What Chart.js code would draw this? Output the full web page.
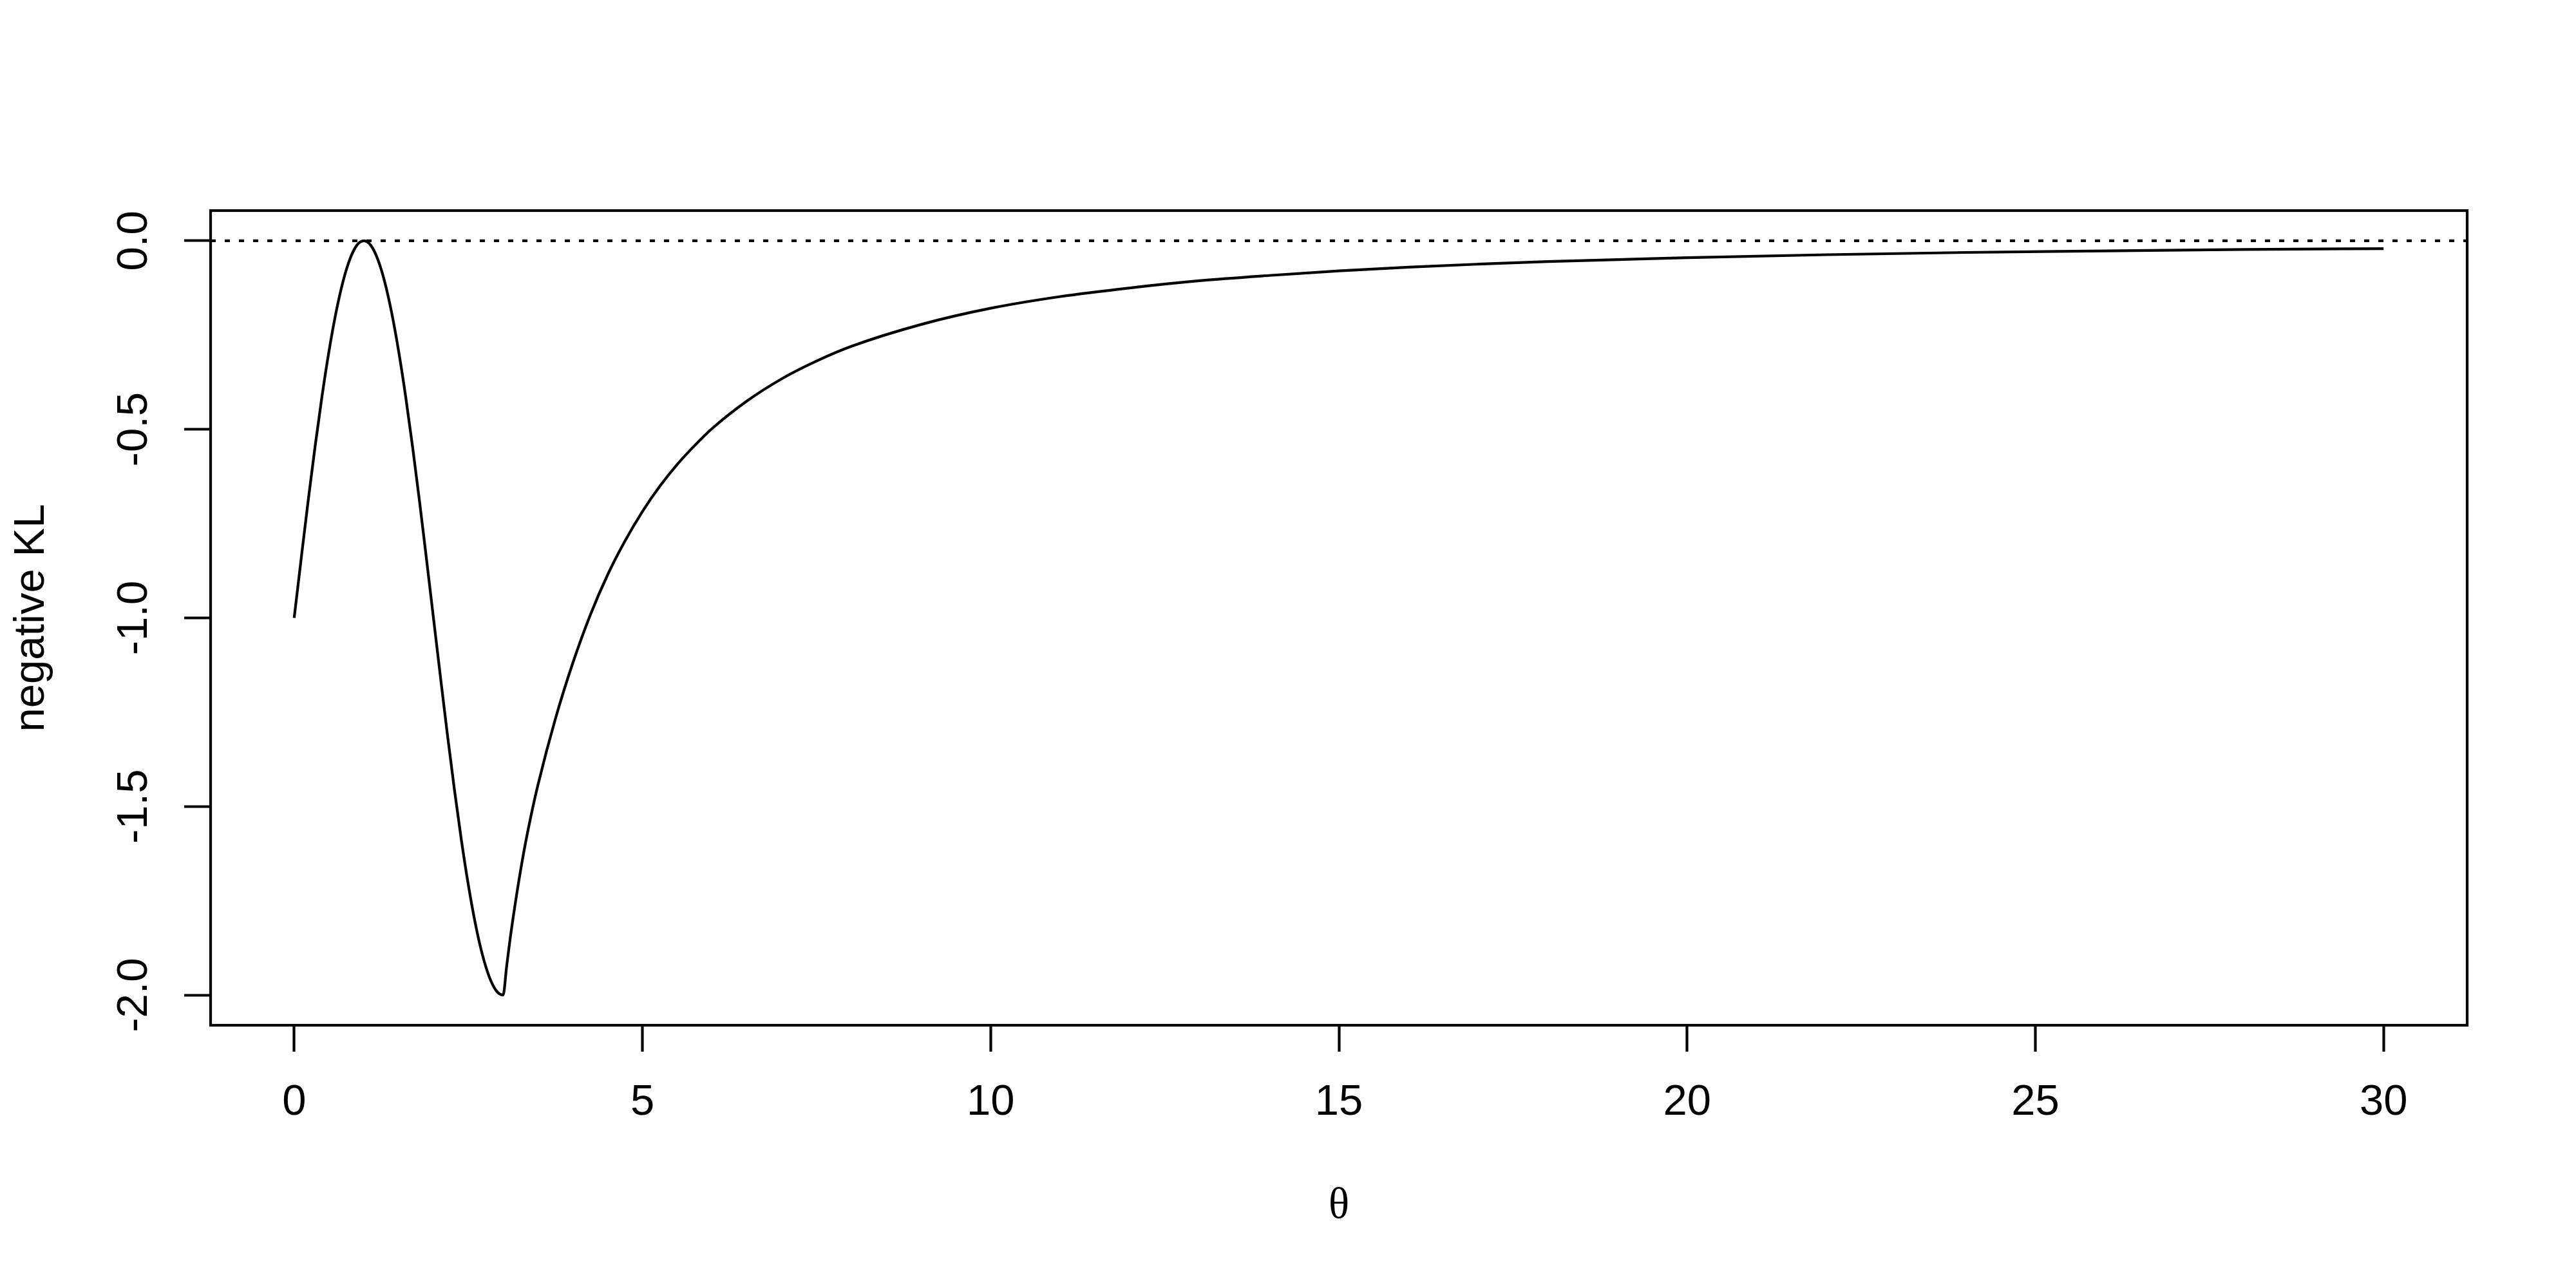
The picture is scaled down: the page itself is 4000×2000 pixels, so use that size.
<!DOCTYPE html>
<html>
<head>
<meta charset="utf-8">
<script src="https://cdn.jsdelivr.net/npm/chart.js@4.4.1/dist/chart.umd.min.js"></script>
<style>
  html, body { margin: 0; padding: 0; background: #fff; }
  #chart { display: block; }
</style>
</head>
<body>
<canvas id="chart" width="4000" height="2000" style="width:4000px;height:2000px"></canvas>
<script>
// curve values
const theta = [
  0, 0.1, 0.2, 0.3, 0.4, 0.5, 0.6, 0.7, 0.8, 0.9, 1.0,
  1.1, 1.2, 1.3, 1.4, 1.5, 1.6, 1.7, 1.8, 1.9, 2.0,
  2.1, 2.2, 2.3, 2.4, 2.5, 2.6, 2.7, 2.8, 2.9, 3.0,
  3.05, 3.1, 3.2, 3.3, 3.4, 3.5, 3.75, 4.0, 4.25, 4.5, 4.75,
  5.0, 5.25, 5.5, 5.75, 6.0, 6.5, 7.0, 7.5, 8, 9, 10, 11, 12, 13, 14,
  15, 16, 17, 18, 19, 20, 22, 24, 26, 28, 30
];
const negKL = [
  -1.000, -0.844, -0.691, -0.546, -0.412, -0.293, -0.191, -0.109, -0.049, -0.012, 0.000,
  -0.012, -0.049, -0.109, -0.191, -0.293, -0.412, -0.546, -0.691, -0.844, -1.000,
  -1.156, -1.309, -1.454, -1.588, -1.707, -1.809, -1.891, -1.951, -1.988, -2.000,
  -1.925, -1.852, -1.727, -1.618, -1.525, -1.443, -1.268, -1.120, -0.993, -0.886, -0.796,
  -0.718, -0.651, -0.593, -0.543, -0.498, -0.425, -0.366, -0.319, -0.280, -0.222, -0.179, -0.148, -0.125, -0.106, -0.092,
  -0.080, -0.070, -0.062, -0.055, -0.050, -0.045, -0.037, -0.031, -0.027, -0.023, -0.021
];

const xTickValues = [0, 5, 10, 15, 20, 25, 30];
const xTickLabels = ['0', '5', '10', '15', '20', '25', '30'];
const yTickValues = [-2, -1.5, -1, -0.5, 0];
const yTickLabels = ['-2.0', '-1.5', '-1.0', '-0.5', '0.0'];
const xRange = [-1.2, 31.2];
const yRange = [-2.08, 0.08];
const refLevel = 0;

const LW = 4.2;
const sans = "'Liberation Sans', Arial, Helvetica, sans-serif";
const serif = "'Liberation Serif', 'Times New Roman', serif";

const curve = theta.map((t, i) => ({ x: t, y: negKL[i] }));
const refLine = xRange.map(x => ({ x: x, y: refLevel }));

// box around the plot region
const frame = {
  id: 'frame',
  afterDatasetsDraw(chart) {
    const { ctx, chartArea: a } = chart;
    ctx.save();
    ctx.strokeStyle = '#000';
    ctx.lineWidth = LW;
    ctx.strokeRect(a.left, a.top, a.right - a.left, a.bottom - a.top);
    ctx.restore();
  }
};

new Chart(document.getElementById('chart'), {
  type: 'scatter',
  data: {
    datasets: [
      {
        data: refLine,
        showLine: true,
        borderColor: '#000',
        borderWidth: LW,
        borderDash: [8, 14],
        borderCapStyle: 'butt',
        pointRadius: 0
      },
      {
        data: curve,
        showLine: true,
        borderColor: '#000',
        borderWidth: LW,
        cubicInterpolationMode: 'monotone',
        pointRadius: 0
      }
    ]
  },
  options: {
    responsive: false,
    animation: false,
    devicePixelRatio: 1,
    layout: { padding: { top: 327, right: 169, left: 0, bottom: 0 } },
    plugins: {
      legend: { display: false },
      tooltip: { enabled: false }
    },
    scales: {
      x: {
        type: 'linear',
        min: xRange[0],
        max: xRange[1],
        afterFit: s => { s.height = 408; },
        afterBuildTicks: s => { s.ticks = xTickValues.map(v => ({ value: v })); },
        border: { display: false },
        grid: {
          drawOnChartArea: false,
          drawTicks: true,
          tickLength: 41,
          tickColor: '#000',
          tickWidth: LW
        },
        ticks: {
          autoSkip: false,
          maxRotation: 0,
          padding: 39,
          color: '#000',
          font: { family: sans, size: 67 },
          callback: (v, i) => xTickLabels[i]
        },
        title: {
          display: true,
          text: 'θ',
          color: '#000',
          font: { family: serif, size: 67 },
          padding: { top: 0, bottom: 86 }
        }
      },
      y: {
        type: 'linear',
        min: yRange[0],
        max: yRange[1],
        afterFit: s => { s.width = 327; },
        afterBuildTicks: s => { s.ticks = yTickValues.map(v => ({ value: v })); },
        border: { display: false },
        grid: {
          drawOnChartArea: false,
          drawTicks: true,
          tickLength: 41,
          tickColor: '#000',
          tickWidth: LW
        },
        ticks: {
          autoSkip: false,
          minRotation: 90,
          maxRotation: 90,
          crossAlign: 'center',
          padding: 19,
          color: '#000',
          font: { family: sans, size: 67 },
          callback: (v, i) => yTickLabels[i]
        },
        title: {
          display: true,
          text: 'negative KL',
          color: '#000',
          font: { family: sans, size: 67 },
          padding: { top: 9, bottom: 0 }
        }
      }
    }
  },
  plugins: [frame]
});
</script>
</body>
</html>
